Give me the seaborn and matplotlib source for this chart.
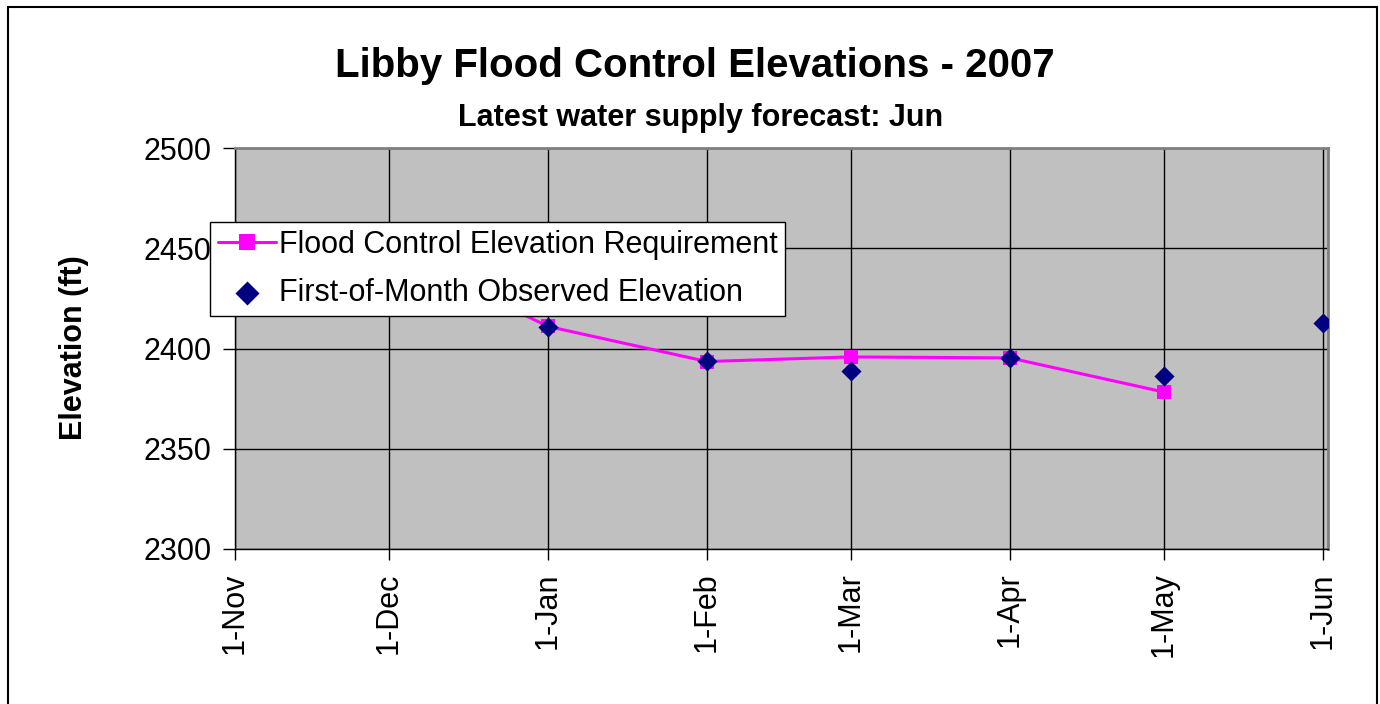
import pandas as pd
import matplotlib.pyplot as plt
import seaborn as sns
from matplotlib.patches import Rectangle

# Flood control elevation requirement (ft) - first of month
req_dates = ['2006-12-01', '2007-01-01', '2007-02-01', '2007-03-01', '2007-04-01', '2007-05-01']
req_elev = [2449.5, 2411.0, 2393.5, 2395.8, 2395.3, 2378.3]

# First-of-month observed elevation (ft)
obs_dates = ['2007-01-01', '2007-02-01', '2007-03-01', '2007-04-01', '2007-05-01', '2007-06-01']
obs_elev = [2410.8, 2393.8, 2388.8, 2395.3, 2386.3, 2412.7]

tick_dates = ['2006-11-01', '2006-12-01', '2007-01-01', '2007-02-01', '2007-03-01',
              '2007-04-01', '2007-05-01', '2007-06-01']
tick_labels = ['1-Nov', '1-Dec', '1-Jan', '1-Feb', '1-Mar', '1-Apr', '1-May', '1-Jun']

req_df = pd.DataFrame({'Date': pd.to_datetime(req_dates), 'Elevation': req_elev})
obs_df = pd.DataFrame({'Date': pd.to_datetime(obs_dates), 'Elevation': obs_elev})

sns.set_style('ticks')
plt.rcParams['font.family'] = ['Liberation Sans', 'DejaVu Sans']
plt.rcParams['text.color'] = 'black'
plt.rcParams['xtick.color'] = 'black'
plt.rcParams['ytick.color'] = 'black'

fig = plt.figure(figsize=(13.8, 7.04), dpi=100)
ax = fig.add_axes([235 / 1380, 1 - 549 / 704, (1328 - 235) / 1380, (549 - 148) / 704])
ax.set_facecolor('#C0C0C0')

sns.lineplot(data=req_df, x='Date', y='Elevation', ax=ax, color='#FF00FF', linewidth=2.2,
             marker='s', markersize=10, markeredgewidth=0,
             label='Flood Control Elevation Requirement', zorder=3)
sns.scatterplot(data=obs_df, x='Date', y='Elevation', ax=ax, color='#000080', marker='D',
                s=105, linewidth=0, label='First-of-Month Observed Elevation', zorder=4)

ax.set_xlim(pd.Timestamp('2006-11-01'), pd.Timestamp('2007-06-02'))
ax.set_ylim(2300, 2500)
ax.set_yticks([2300, 2350, 2400, 2450, 2500])
ax.set_xticks(pd.to_datetime(tick_dates))
ax.set_xticklabels(tick_labels, rotation=90)
ax.tick_params(axis='both', labelsize=22, color='black', labelcolor='black', width=1)
ax.tick_params(axis='x', length=8, pad=9)
ax.tick_params(axis='y', length=9, pad=8)
ax.grid(True, color='black', linewidth=1)
ax.set_axisbelow(True)

for side in ['top', 'right']:
    ax.spines[side].set_color('#808080')
    ax.spines[side].set_linewidth(2)
for side in ['left', 'bottom']:
    ax.spines[side].set_color('black')
    ax.spines[side].set_linewidth(1)

ax.set_xlabel('')
ax.set_ylabel('')
fig.text(74 / 1380, 1 - 348 / 704, 'Elevation (ft)', rotation=90, ha='center', va='center',
         fontsize=22, fontweight='bold')

fig.text(695 / 1380, 1 - 66 / 704, 'Libby Flood Control Elevations - 2007', ha='center',
         va='center', fontsize=29, fontweight='bold')
fig.text(701 / 1380, 1 - 118 / 704, 'Latest water supply forecast: Jun', ha='center',
         va='center', fontsize=22, fontweight='bold')

ax.get_legend().remove()
handles, labels = ax.get_legend_handles_labels()
leg = fig.legend(handles, labels, loc='upper left', bbox_to_anchor=(210 / 1380, 1 - 222 / 704),
                 fontsize=22, frameon=True, fancybox=False, framealpha=1, edgecolor='black',
                 borderpad=0.25, handlelength=1.9, handletextpad=0.1, labelspacing=0.6,
                 borderaxespad=0)
leg.get_frame().set_linewidth(1)
leg.legend_handles[0].set_markersize(11)
leg.legend_handles[1].set_sizes([150])

fig.patches.append(Rectangle((8 / 1380, -0.01), (1377 - 8) / 1380, 1.01 - 7 / 704,
                             transform=fig.transFigure, fill=False, edgecolor='black',
                             linewidth=1.5))

fig.savefig('out.png', dpi=100, facecolor='white')
